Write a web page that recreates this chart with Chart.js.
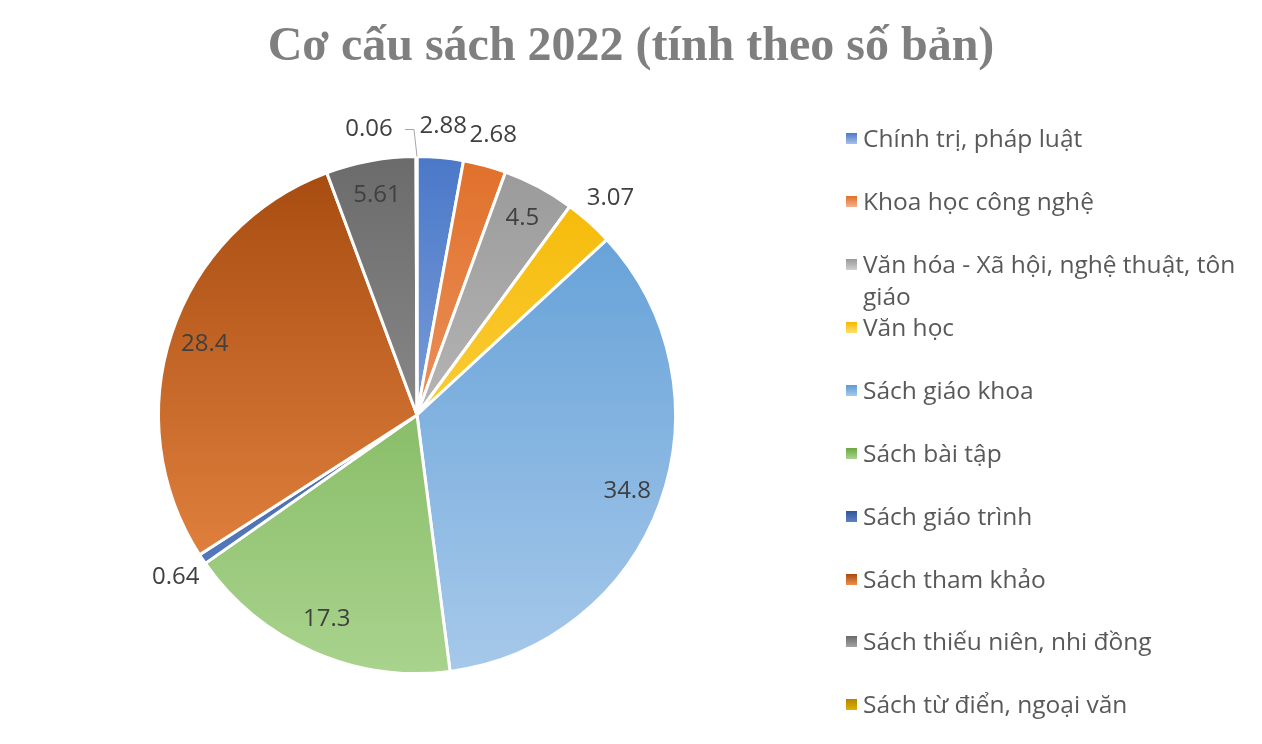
<!DOCTYPE html>
<html>
<head>
<meta charset="utf-8">
<script src="https://cdn.jsdelivr.net/npm/chart.js@4"></script>
<style>
  body { margin: 0; background: #fff; }
  #wrap { position: relative; width: 1262px; height: 744px; }
  #title { position: absolute; left: 0; top: 16px; width: 1262px; text-align: center;
    font: bold 48px "Liberation Serif", serif; color: #7f7f7f; }
  #legend { position: absolute; left: 846px; top: 122px; width: 410px;
    font: 24.5px "Open Sans", "Liberation Sans", sans-serif; color: #595959; }
  .item { position: absolute; padding-left: 17px; line-height: 32px; white-space: nowrap; }
  .item span.box { position: absolute; left: 0; top: 11px; width: 11px; height: 11px; }
</style>
</head>
<body>
<div id="wrap">
  <div id="title">Cơ cấu sách 2022 (tính theo số bản)</div>
  <canvas id="pieChart" width="1262" height="744"></canvas>
  <div id="legend"></div>
</div>
<script>
const categories = ["Chính trị, pháp luật", "Khoa học công nghệ", "Văn hóa - Xã hội, nghệ thuật, tôn giáo",
  "Văn học", "Sách giáo khoa", "Sách bài tập", "Sách giáo trình", "Sách tham khảo",
  "Sách thiếu niên, nhi đồng", "Sách từ điển, ngoại văn"];
const values = [2.88, 2.68, 4.5, 3.07, 34.8, 17.3, 0.64, 28.4, 5.61, 0.06];
const darkColors = ["#4a78c8", "#e0702a", "#999999", "#f5b800", "#5b9bd5", "#6aa842", "#2f5597", "#a54a0f", "#6b6b6b", "#b08600"];
const lightColors = ["#a9c0ea", "#f5b08a", "#d0d0d0", "#ffdf6e", "#a7c9ea", "#a9d38e", "#5d82c4", "#f08f4a", "#a3a3a3", "#e0b000"];
const insideLabels = [2, 4, 5, 7, 8];

/* legend */
const legendBox = document.getElementById("legend");
const legendTops = [0, 63, 126, 189, 252, 315, 378, 441, 503, 566];
categories.forEach((c, i) => {
  const d = document.createElement("div");
  d.className = "item";
  d.style.top = legendTops[i] + "px";
  let text = c;
  if (i === 2) text = "Văn hóa - Xã hội, nghệ thuật, tôn<br>giáo";
  d.innerHTML = '<span class="box" style="background:linear-gradient(' + darkColors[i] + ',' + lightColors[i] + ')"></span>' + text;
  legendBox.appendChild(d);
});

/* data labels */
const labelPlugin = {
  id: "sliceLabels",
  afterDatasetsDraw(chart) {
    const ctx = chart.ctx;
    const meta = chart.getDatasetMeta(0);
    ctx.save();
    ctx.font = '24px "Open Sans", "Liberation Sans", sans-serif';
    ctx.fillStyle = "#404040";
    ctx.textAlign = "center";
    ctx.textBaseline = "middle";
    meta.data.forEach((arc, i) => {
      const p = arc.getProps(["x", "y", "startAngle", "endAngle", "outerRadius"], true);
      const mid = (p.startAngle + p.endAngle) / 2;
      const r = insideLabels.includes(i) ? p.outerRadius * 0.865 : p.outerRadius + 32;
      let x = p.x + Math.cos(mid) * r;
      let y = p.y + Math.sin(mid) * r;
      if (i === 9) {
        ctx.strokeStyle = "#a6a6a6";
        ctx.lineWidth = 1;
        ctx.beginPath();
        ctx.moveTo(p.x, p.y - p.outerRadius);
        ctx.lineTo(p.x - 3, p.y - p.outerRadius - 27);
        ctx.lineTo(p.x - 12, p.y - p.outerRadius - 27);
        ctx.stroke();
        x = p.x - 48;
        y = p.y - p.outerRadius - 27;
      }
      ctx.fillText(String(values[i]), x, y);
    });
    ctx.restore();
  }
};

new Chart(document.getElementById("pieChart"), {
  type: "pie",
  data: {
    labels: categories,
    datasets: [{
      data: values,
      backgroundColor: (c) => {
        const area = c.chart.chartArea;
        if (!area) return darkColors[c.dataIndex];
        const g = c.chart.ctx.createLinearGradient(0, area.top, 0, area.bottom);
        g.addColorStop(0, darkColors[c.dataIndex]);
        g.addColorStop(1, lightColors[c.dataIndex]);
        return g;
      },
      borderColor: "#ffffff",
      borderWidth: 3
    }]
  },
  options: {
    responsive: false,
    animation: false,
    layout: { padding: { left: 157, right: 585, top: 155, bottom: 69 } },
    plugins: {
      legend: { display: false },
      tooltip: { enabled: false }
    }
  },
  plugins: [labelPlugin]
});
</script>
</body>
</html>
